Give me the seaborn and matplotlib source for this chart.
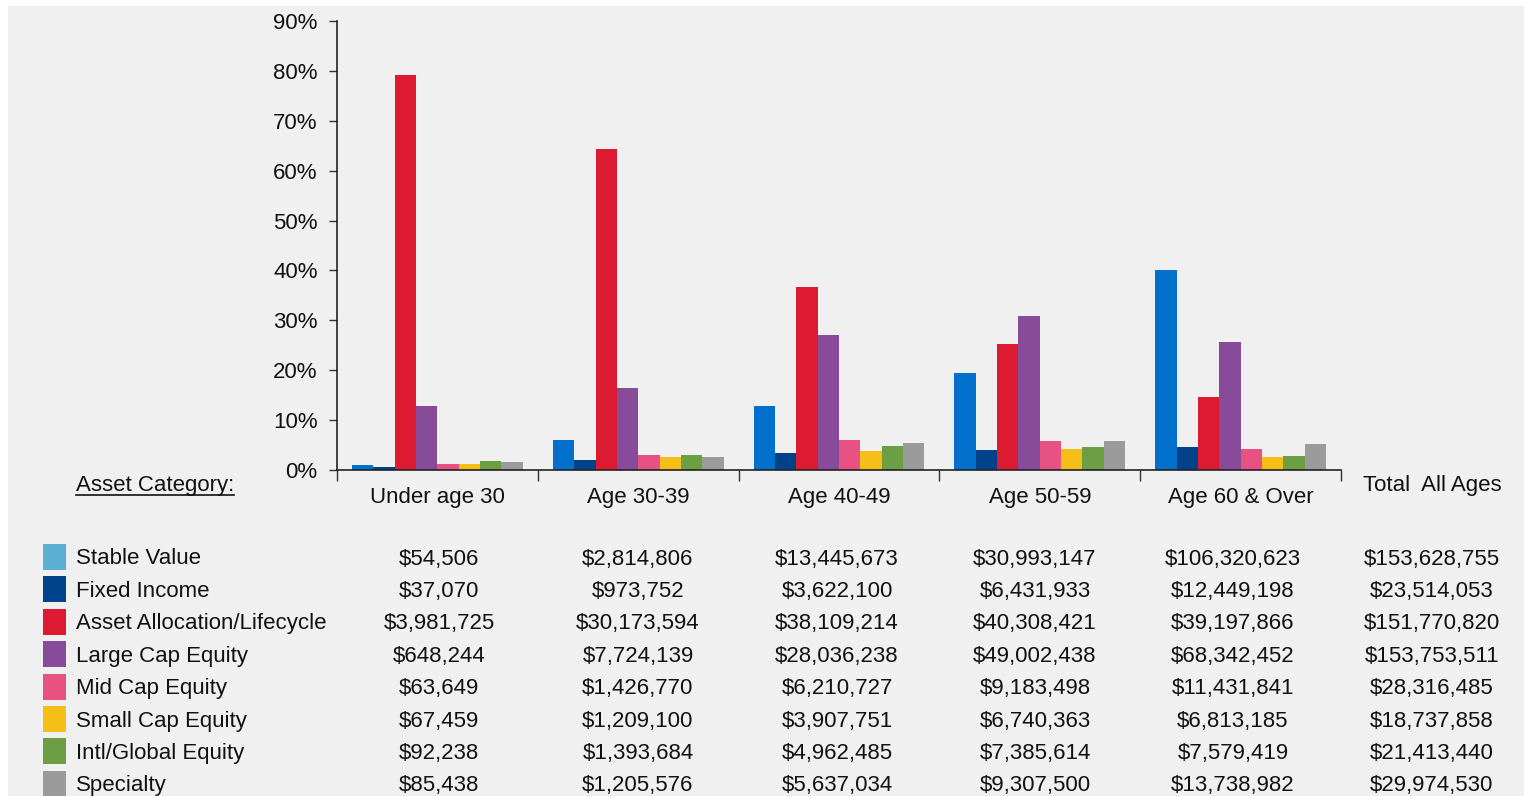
import numpy as np
import pandas as pd
import seaborn as sns
import matplotlib.pyplot as plt
from matplotlib.patches import Rectangle
from matplotlib.lines import Line2D
from matplotlib.ticker import FuncFormatter

# Dados
ages = ['Under age 30', 'Age 30-39', 'Age 40-49', 'Age 50-59', 'Age 60 & Over']
categories = ['Stable Value', 'Fixed Income', 'Asset Allocation/Lifecycle', 'Large Cap Equity',
              'Mid Cap Equity', 'Small Cap Equity', 'Intl/Global Equity', 'Specialty']

# percentual de cada categoria dentro da faixa etaria
pct_stable = [1.1, 6.0, 12.9, 19.5, 40.0]
pct_fixed = [0.7, 2.1, 3.5, 4.0, 4.7]
pct_alloc = [79.2, 64.3, 36.7, 25.3, 14.7]
pct_large = [12.9, 16.5, 27.0, 30.8, 25.7]
pct_mid = [1.3, 3.0, 6.0, 5.8, 4.3]
pct_small = [1.3, 2.6, 3.8, 4.2, 2.6]
pct_intl = [1.8, 3.0, 4.8, 4.6, 2.9]
pct_spec = [1.7, 2.6, 5.4, 5.8, 5.2]

# valores em dolar (tabela)
amt_stable = [54506, 2814806, 13445673, 30993147, 106320623]
amt_fixed = [37070, 973752, 3622100, 6431933, 12449198]
amt_alloc = [3981725, 30173594, 38109214, 40308421, 39197866]
amt_large = [648244, 7724139, 28036238, 49002438, 68342452]
amt_mid = [63649, 1426770, 6210727, 9183498, 11431841]
amt_small = [67459, 1209100, 3907751, 6740363, 6813185]
amt_intl = [92238, 1393684, 4962485, 7385614, 7579419]
amt_spec = [85438, 1205576, 5637034, 9307500, 13738982]
total_all = [153628755, 23514053, 151770820, 153753511, 28316485, 18737858, 21413440, 29974530]

bar_colors = ['#0070cc', '#00428a', '#dc1a32', '#874b99', '#e75283', '#f5bf18', '#6c9f43', '#9b9b9b']
legend_colors = ['#5aafd3'] + bar_colors[1:]

pcts = [pct_stable, pct_fixed, pct_alloc, pct_large, pct_mid, pct_small, pct_intl, pct_spec]
amts = [amt_stable, amt_fixed, amt_alloc, amt_large, amt_mid, amt_small, amt_intl, amt_spec]

df = pd.DataFrame({
    'Age': np.tile(ages, len(categories)),
    'Category': np.repeat(categories, len(ages)),
    'Pct': np.concatenate(pcts),
})

plt.rcParams['font.family'] = ['Liberation Sans', 'DejaVu Sans']
FS = 16

W, H = 1524, 796
fig = plt.figure(figsize=(W / 100, H / 100), dpi=100, facecolor='white')
# painel cinza de fundo (atras de tudo)
fig.patches.append(Rectangle((8 / W, 0), 1 - 8 / W, 1 - 6 / H, transform=fig.transFigure,
                             facecolor='#f0f0f0', edgecolor='none', zorder=-10))

ax = fig.add_axes([337 / W, (H - 470) / H, (1341 - 337) / W, (470 - 21) / H])
ax.set_facecolor('none')

sns.barplot(data=df, x='Age', y='Pct', hue='Category', order=ages, hue_order=categories,
            palette=bar_colors, saturation=1, width=0.85, gap=0, linewidth=0,
            errorbar=None, legend=False, ax=ax)

ax.set_xlim(-0.5, 4.5)
ax.set_ylim(0, 90)
ax.set_yticks(np.arange(0, 91, 10))
ax.yaxis.set_major_formatter(FuncFormatter(lambda v, p: f'{v:.0f}%'))
ax.tick_params(axis='y', labelsize=FS, length=6, width=1, color='#333333', pad=8, labelcolor='#111111')
ax.set_xticks(np.arange(-0.5, 5, 1), minor=True)
ax.tick_params(axis='x', which='minor', length=8, width=1, color='#333333')
ax.tick_params(axis='x', which='major', length=0, labelsize=FS, pad=12, labelcolor='#111111')
ax.set_xlabel('')
ax.set_ylabel('')
for s in ['top', 'right']:
    ax.spines[s].set_visible(False)
for s in ['left', 'bottom']:
    ax.spines[s].set_color('#222222')
    ax.spines[s].set_linewidth(1.2)

def fx(px):
    return px / W

def fy(py):
    return 1 - py / H

# cabecalhos
t = fig.text(fx(76), fy(486), 'Asset Category:', fontsize=FS, ha='left', va='center', color='#111111')
fig.text(fx(1432), fy(486), 'Total  All Ages', fontsize=FS, ha='center', va='center', color='#111111')
fig.canvas.draw()
bb = t.get_window_extent(fig.canvas.get_renderer())
fig.add_artist(Line2D([bb.x0 / W, bb.x1 / W], [fy(495), fy(495)], color='#111111', linewidth=1.2))

# tabela
col_x = [439, 638, 837, 1035, 1233]
row_y0, row_dy = 559, 32.4
for i, cat in enumerate(categories):
    y = row_y0 + i * row_dy
    fig.patches.append(Rectangle((fx(43), fy(y + 11)), 23 / W, 26 / H, transform=fig.transFigure,
                                 facecolor=legend_colors[i], edgecolor='none', zorder=2))
    fig.text(fx(76), fy(y), cat, fontsize=FS, ha='left', va='center', color='#111111')
    for j, v in enumerate(amts[i]):
        fig.text(fx(col_x[j]), fy(y), f'${v:,}', fontsize=FS, ha='center', va='center', color='#111111')
    fig.text(fx(1432), fy(y), f'${total_all[i]:,}', fontsize=FS, ha='center', va='center', color='#111111')

plt.savefig('out.png', dpi=100, facecolor=fig.get_facecolor())
